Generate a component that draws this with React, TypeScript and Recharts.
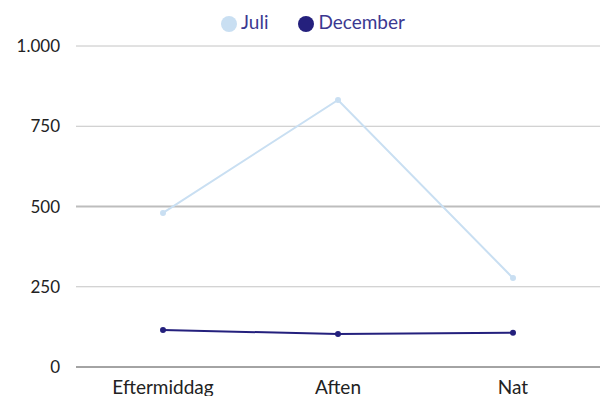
import React from "react";
import { LineChart, Line, XAxis, YAxis, CartesianGrid, Legend, ReferenceLine } from "recharts";

const categories = ["Eftermiddag", "Aften", "Nat"];
const juli = [480, 832, 277];
const december = [115, 103, 107];
const yTicks = [0, 250, 500, 750, 1000];

const data = categories.map((c, i) => ({ name: c, Juli: juli[i], December: december[i] }));

const fmt = (v: number) => (v >= 1000 ? v.toLocaleString("de-DE") : String(v));

export default function App() {
  return (
    <div style={{ position: "absolute", left: 0, top: 0, width: 600, height: 396, background: "#fff" }}>
      <LineChart
        width={600}
        height={396}
        data={data}
        margin={{ top: 16, right: 0, bottom: 0, left: 0 }}
        style={{ fontFamily: "Lato, sans-serif" }}
      >
        <CartesianGrid vertical={false} stroke="#c4c4c4" strokeWidth={1} />
        <ReferenceLine y={500} stroke="#bdbdbd" strokeWidth={2} />
        <XAxis
          dataKey="name"
          tickLine={false}
          axisLine={{ stroke: "#666666" }}
          height={29}
          padding={{ left: 87, right: 87 }}
          tickMargin={8}
          tick={{ fill: "#222", fontSize: 19 }}
          interval={0}
        />
        <YAxis
          domain={[0, 1000]}
          ticks={yTicks}
          tickFormatter={fmt}
          tickLine={false}
          axisLine={false}
          width={76}
          tickMargin={10}
          tick={{ fill: "#222", fontSize: 17 }}
        />
        <Legend
          verticalAlign="top"
          align="center"
          iconType="circle"
          iconSize={16}
          height={30}
          itemSorter={(item: any) => (item.dataKey === "Juli" ? 0 : 1)}
          wrapperStyle={{ top: 10, fontSize: 19, paddingLeft: 36, boxSizing: "border-box" }}
          formatter={(value: string) => (
            <span style={{ color: "#3b3891", marginRight: value === "Juli" ? 20 : 0 }}>{value}</span>
          )}
        />
        <Line
          dataKey="Juli"
          stroke="#c9dff2"
          strokeWidth={2}
          dot={{ r: 2, fill: "#c9dff2", stroke: "#c9dff2" }}
          isAnimationActive={false}
        />
        <Line
          dataKey="December"
          stroke="#24207d"
          strokeWidth={2}
          dot={{ r: 2, fill: "#24207d", stroke: "#24207d" }}
          isAnimationActive={false}
        />
      </LineChart>
    </div>
  );
}
